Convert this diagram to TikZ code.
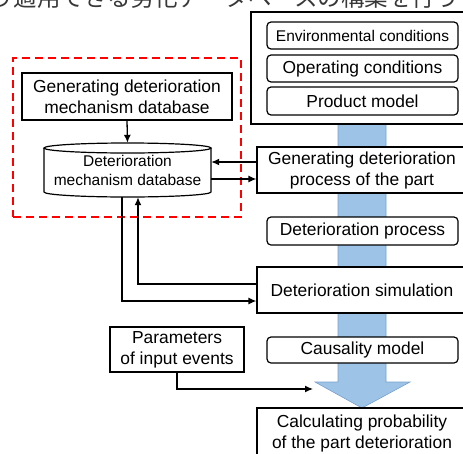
\documentclass[tikz,border=0pt]{standalone}
\usepackage{fontspec}
\setmainfont{Liberation Sans}
\newfontfamily\jpfont{Noto Sans CJK JP}
\usetikzlibrary{arrows.meta}
\definecolor{flowblue}{RGB}{157,195,230}
\definecolor{flowedge}{RGB}{118,160,205}
\definecolor{dashred}{RGB}{255,0,0}

\begin{document}
\begin{tikzpicture}[x=1pt,y=-1pt,
  txt/.style={font=\fontsize{17.4}{21}\selectfont, align=center, inner sep=0pt},
  smalltxt/.style={font=\fontsize{15.5}{19}\selectfont, align=center, inner sep=0pt},
  sqbox/.style={txt, draw=black, line width=1.2pt, fill=white, rectangle},
  rbox/.style={sqbox, rounded corners=4pt},
  link/.style={draw=black, line width=1.3pt, -{Latex[length=8pt,width=7pt]}},
  plain/.style={draw=black, line width=1.3pt}
]
\useasboundingbox (0,0) rectangle (463,453);
\clip (0,0) rectangle (463,453);

% heading line, partly outside the page
\node[anchor=base west, inner sep=0pt, text=black!78,
      font=\jpfont\fontsize{23.5}{24}\selectfont] (heading) at (-9.75,6.5)
      {り適用できる劣化データベースの構築を行う};

% main flow arrow
\filldraw[fill=flowblue, draw=flowedge, line width=0.6pt]
  (338,118) -- (338,382) -- (315,382) -- (362,408) -- (410,382)
  -- (386,382) -- (386,118) -- cycle;

% inputs
\node[sqbox, minimum width=222pt, minimum height=112pt] (inputs) at (362,68) {};
\node[rbox, smalltxt, minimum width=191pt, minimum height=27pt] (env) at (362.5,35.5) {Environmental conditions};
\node[rbox, minimum width=191pt, minimum height=27pt] (oper) at (362.5,68.5) {Operating conditions};
\node[rbox, minimum width=191pt, minimum height=28pt] (prod) at (362.5,101) {Product model};

% flow steps
\node[sqbox, minimum width=210pt, minimum height=46pt] (genproc) at (362,170)
  {Generating deterioration\\process of the part};
\node[rbox, minimum width=191pt, minimum height=28pt] (detproc) at (362.5,231) {Deterioration process};
\node[sqbox, minimum width=210pt, minimum height=46pt] (sim) at (362,290) {Deterioration simulation};
\node[rbox, minimum width=191pt, minimum height=26pt] (causal) at (362.5,350) {Causality model};
\node[sqbox, minimum width=210pt, minimum height=51pt] (calc) at (362,433.5)
  {Calculating probability\\of the part deterioration};

% database group
\node[draw=dashred, line width=2.4pt, dash pattern=on 8pt off 5pt,
      minimum width=228pt, minimum height=159pt, inner sep=0pt] (group) at (127,137.5) {};
\node[sqbox, minimum width=210pt, minimum height=47pt] (gendb) at (127,96.5)
  {Generating deterioration\\mechanism database};

% cylinder
\filldraw[fill=white, draw=black, line width=1.2pt]
  (44,148) -- (44,192) arc[start angle=180, end angle=360, x radius=83.5pt, y radius=5pt]
  -- (211,148);
\filldraw[fill=white, draw=black, line width=1.2pt]
  (127.5,148) ellipse[x radius=83.5pt, y radius=5pt];
\node[smalltxt, minimum width=167pt, minimum height=54pt] (db) at (127.5,170)
  {Deterioration\\mechanism database};

% parameters
\node[sqbox, minimum width=134pt, minimum height=45pt] (param) at (177,349.5)
  {Parameters\\of input events};
\coordinate (headin) at (313,389);

% connectors
\draw[link] (gendb.south) -- (db.north);
\draw[link] ([yshift=8pt]genproc.west) -- ([yshift=8pt]genproc.west -| db.east);
\draw[link] ([yshift=-9pt]db.east) -- ([yshift=-9pt]db.east -| genproc.west);
\draw[link] ([xshift=-5.5pt]db.south) |- ([yshift=-11pt]sim.west);
\draw[link] ([yshift=6pt]sim.west) -| ([xshift=10.5pt]db.south);
\draw[link] (param.south) |- (headin);
\end{tikzpicture}
\end{document}
